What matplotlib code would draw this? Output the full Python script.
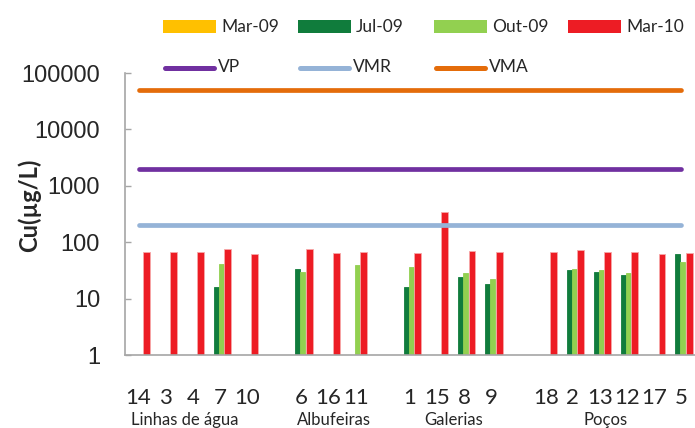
import numpy as np
import matplotlib
matplotlib.use("Agg")
import matplotlib.pyplot as plt
from matplotlib.patches import Rectangle
from matplotlib.lines import Line2D

nan = np.nan

# Sampling points (blank slots separate the site groups)
categories = ['14', '3', '4', '7', '10', '',
              '6', '16', '11', '',
              '1', '15', '8', '9', '',
              '18', '2', '13', '12', '17', '5']

groups = ['Linhas de água', 'Albufeiras', 'Galerias', 'Poços']

# Cu concentrations (µg/L) per campaign
mar09 = [nan] * 21
jul09 = [nan, nan, nan, 15.8, nan, nan,
         33, nan, nan, nan,
         15.8, nan, 24, 17.8, nan,
         nan, 32, 30, 26, nan, 63]
out09 = [nan, nan, nan, 41, nan, nan,
         30, nan, 39, nan,
         37, nan, 29, 22.4, nan,
         nan, 33, 31.5, 28, nan, 45]
mar10 = [67, 67, 67, 75, 62, nan,
         75, 64, 66, nan,
         65, 344, 69, 68, nan,
         66, 74, 68, 67, 61, 65]

# Reference limits (µg/L)
vp = 2000
vmr = 200
vma = 50000

plt.rcParams['font.family'] = ['Lato', 'DejaVu Sans']

W, H = 695, 428
fig = plt.figure(figsize=(W / 100, H / 100), dpi=100)
ax = fig.add_axes([125 / W, 1 - 355 / H, 570 / W, 282 / H])

x = np.arange(len(categories))

bar_series = [
    (mar09, '#FFC000', -0.315, 0.185, 'Mar-09'),
    (jul09, '#107C3C', -0.13, 0.185, 'Jul-09'),
    (out09, '#92D050', 0.056, 0.185, 'Out-09'),
    (mar10, '#ED1C24', 0.285, 0.25, 'Mar-10'),
]
for vals, col, off, w, lab in bar_series:
    v = np.array(vals, dtype=float)
    edge = '#F7A8A8' if col == '#ED1C24' else col
    ax.bar(x + off, v - 1, bottom=1, width=w, color=col,
           edgecolor=edge, linewidth=0.6, zorder=2)

line_series = [
    (vp, '#7030A0', 'VP'),
    (vmr, '#95B3D7', 'VMR'),
    (vma, '#E46C0A', 'VMA'),
]
for val, col, lab in line_series:
    ax.plot(x, [val] * len(x), color=col, lw=3.4,
            solid_capstyle='round', zorder=3)

ax.set_yscale('log')
ax.set_ylim(1, 100000)
ax.set_xlim(-0.5, len(categories) - 0.5)

yt = [1, 10, 100, 1000, 10000, 100000]
ax.set_yticks(yt)
ax.set_yticklabels([str(t) for t in yt], fontfamily='Liberation Sans',
                   fontsize=17, color='#262626')
ax.yaxis.set_minor_locator(matplotlib.ticker.NullLocator())
ax.tick_params(axis='y', direction='in', length=4, width=1,
               color='#A6A6A6', pad=18)

ax.set_xticks(x)
ax.set_xticklabels(categories, fontsize=16, color='#262626')
ax.tick_params(axis='x', length=0, pad=24)

for side in ('top', 'right'):
    ax.spines[side].set_visible(False)
for side in ('left', 'bottom'):
    ax.spines[side].set_color('#A6A6A6')
    ax.spines[side].set_linewidth(1.2)

ax.set_ylabel('Cu(µg/L)', fontsize=17, fontweight='bold',
              color='#262626', va='center')
ax.yaxis.set_label_coords(-0.167, 0.53)

group_x = [1.7, 7.2, 11.6, 17.2]
for gx, g in zip(group_x, groups):
    ax.text(gx, -0.232, g, transform=ax.get_xaxis_transform(),
            ha='center', va='center', fontsize=12, color='#262626')

# Legend, two rows drawn in figure pixel units
def fx(px):
    return px / W


def fy(py):
    return 1 - py / H


col_x = [163, 298, 434, 568]
for i, (vals, col, off, w, lab) in enumerate(bar_series):
    x0 = col_x[i]
    fig.add_artist(Rectangle((fx(x0), fy(33)), fx(53), 13 / H,
                             transform=fig.transFigure, facecolor=col,
                             edgecolor='none'))
    fig.text(fx(x0 + 58), fy(27), lab, ha='left', va='center',
             fontsize=12.5, color='#262626')
for i, (val, col, lab) in enumerate(line_series):
    x0 = col_x[i]
    fig.add_artist(Line2D([fx(x0 + 2), fx(x0 + 51)], [fy(68), fy(68)],
                          transform=fig.transFigure, color=col, lw=3.6,
                          solid_capstyle='round'))
    fig.text(fx(x0 + 55), fy(67), lab, ha='left', va='center',
             fontsize=12.5, color='#262626')

fig.savefig('out.png', dpi=100)
